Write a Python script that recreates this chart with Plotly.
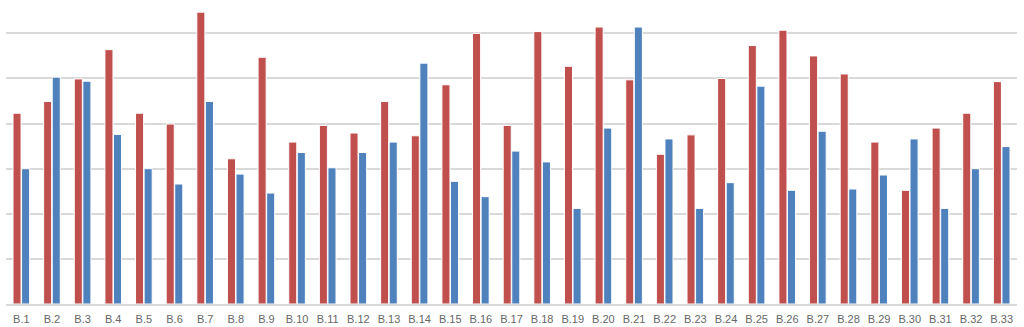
import plotly.graph_objects as go

categories = [f"B.{i}" for i in range(1, 34)]

red_values = [4.23, 4.49, 4.99, 5.64, 4.23, 3.99, 6.47, 3.22, 5.47, 3.59,
              3.96, 3.79, 4.49, 3.73, 4.86, 6.00, 3.96, 6.04, 5.27, 6.14,
              4.97, 3.32, 3.75, 5.00, 5.73, 6.07, 5.50, 5.10, 3.59, 2.52,
              3.90, 4.23, 4.93]

blue_values = [3.00, 5.03, 4.94, 3.76, 3.00, 2.66, 4.49, 2.88, 2.46, 3.36,
               3.02, 3.36, 3.59, 5.34, 2.72, 2.38, 3.39, 3.15, 2.12, 3.90,
               6.14, 3.66, 2.12, 2.69, 4.83, 2.52, 3.83, 2.55, 2.86, 3.66,
               2.12, 3.00, 3.49]

RED = "#C0504D"
BLUE = "#4F81BD"
GRID = "#D9D9D9"

fig = go.Figure()
fig.add_trace(go.Bar(x=categories, y=red_values, marker=dict(color=RED, line=dict(color="white", width=1))))
fig.add_trace(go.Bar(x=categories, y=blue_values, marker=dict(color=BLUE, line=dict(color="white", width=1))))

fig.update_layout(
    width=1024, height=327,
    margin=dict(l=6, r=7, t=0, b=23),
    barmode="group",
    bargap=0.44,
    bargroupgap=0.06,
    showlegend=False,
    plot_bgcolor="white",
    paper_bgcolor="white",
    font=dict(family="Liberation Sans, Arial, sans-serif", size=11, color="#595959"),
)
fig.update_xaxes(showgrid=False, showline=True, linecolor=GRID, linewidth=2,
                 ticks="", ticklabelstandoff=4, tickfont=dict(size=11, color="#666666"))
fig.update_yaxes(range=[0, 6.74], dtick=1, showgrid=True, gridcolor=GRID, gridwidth=2,
                 showticklabels=False, zeroline=False, showline=False)

fig.write_html("out.html")
